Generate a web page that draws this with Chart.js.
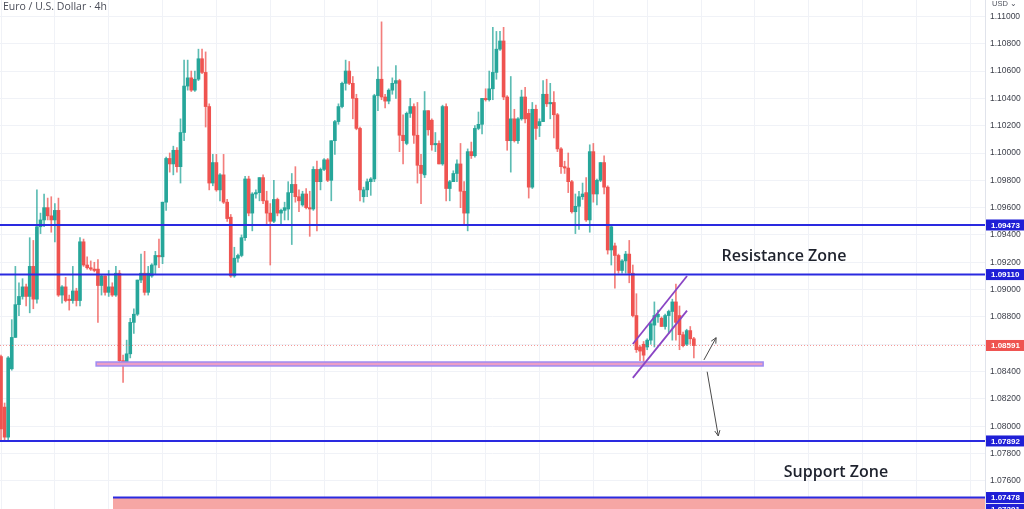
<!DOCTYPE html>
<html>
<head>
<meta charset="utf-8">
<script src="https://cdn.jsdelivr.net/npm/chart.js@4.4.0/dist/chart.umd.min.js"></script>
<style>
html, body { margin: 0; padding: 0; background: #fff; }
</style>
</head>
<body>
<canvas id="grafico" width="1024" height="509"></canvas>
<script>
// EUR/USD 4h candles
var opens = [
1.0851,1.0814,1.0792,1.0842,1.0865,1.0889,1.0895,1.0902,1.0895,1.0917,
1.0893,1.0946,1.0951,1.0960,1.0954,1.0951,1.0958,1.0896,1.0902,1.0893,
1.0892,1.0899,1.0892,1.0935,1.0918,1.0916,1.0915,1.0915,1.0903,1.0910,
1.0898,1.0902,1.0896,1.0912,1.0848,1.0847,1.0853,1.0876,1.0882,1.0907,
1.0912,1.0898,1.0910,1.0918,1.0925,1.0924,1.0964,1.0996,1.0992,1.1002,
1.0990,1.1015,1.1049,1.1055,1.1046,1.1054,1.1069,1.1059,1.1034,1.0978,
1.0993,1.0973,1.0984,1.0964,1.0953,1.0910,1.0923,1.0925,1.0938,1.0981,
1.0956,1.0970,1.0971,1.0982,1.0965,1.0956,1.0950,1.0966,1.0956,1.0958,
1.0959,1.0971,1.0977,1.0968,1.0962,1.0970,1.0960,1.0959,1.0988,1.0979,
1.0988,1.0995,1.0980,1.1009,1.1023,1.1034,1.1051,1.1060,1.1051,1.1040,
1.1018,1.0968,1.0973,1.0979,1.0981,1.1042,1.1054,1.1041,1.1038,1.1046,
1.1051,1.1053,1.1013,1.1007,1.1029,1.1034,1.1013,1.0991,1.0984,1.1031,
1.1024,1.1006,1.1007,1.0992,1.1034,1.0974,1.0979,1.0985,1.0992,1.0972,
1.0956,1.1001,1.0998,1.1018,1.1021,1.1040,1.1039,1.1047,1.1059,1.1076,
1.1082,1.1041,1.1009,1.1025,1.1009,1.1025,1.1041,1.1029,1.0975,1.1032,
1.1020,1.1023,1.1043,1.1036,1.1037,1.1028,1.1003,1.0990,1.0989,1.0979,
1.0957,1.0961,1.0968,1.0971,1.0951,1.1001,1.0970,1.0980,1.0993,1.0975,
1.0929,1.0932,1.0925,1.0914,1.0921,1.0926,1.0912,1.0881,1.0858,1.0860,
1.0858,1.0863,1.0874,1.0880,1.0879,1.0873,1.0881,1.0884,1.0891,1.0881,
1.0867,1.0860,1.0870,1.0864
];
var highs = [
1.0852,1.0817,1.0851,1.0878,1.0917,1.0905,1.0908,1.0904,1.0938,1.0936,
1.0973,1.0956,1.0970,1.0967,1.0968,1.0963,1.0967,1.0903,1.0909,1.0896,
1.0917,1.0901,1.0938,1.0937,1.0924,1.0921,1.0920,1.0922,1.0911,1.0910,
1.0914,1.0905,1.0917,1.0914,1.0852,1.0863,1.0879,1.0886,1.0907,1.0926,
1.0928,1.0917,1.0919,1.0928,1.0937,1.0964,1.0997,1.1000,1.1005,1.1004,
1.1025,1.1068,1.1068,1.1060,1.1060,1.1076,1.1076,1.1074,1.1036,1.0999,
1.0999,1.0985,1.0999,1.0966,1.0955,1.0931,1.0926,1.0940,1.0983,1.0983,
1.0971,1.0973,1.0982,1.0984,1.0972,1.0963,1.0980,1.0967,1.0959,1.0964,
1.0979,1.0985,1.0990,1.0973,1.0972,1.0974,1.0972,1.0990,1.0994,1.0989,
1.0996,1.0996,1.1009,1.1024,1.1036,1.1052,1.1068,1.1067,1.1056,1.1043,
1.1019,1.0975,1.0981,1.0982,1.1043,1.1063,1.1096,1.1043,1.1047,1.1055,
1.1064,1.1054,1.1028,1.1030,1.1040,1.1036,1.1037,1.0999,1.1045,1.1031,
1.1025,1.1015,1.1009,1.1035,1.1036,1.0980,1.0987,1.0995,1.1007,1.0979,
1.1003,1.1008,1.1020,1.1030,1.1040,1.1047,1.1060,1.1092,1.1089,1.1089,
1.1092,1.1042,1.1056,1.1032,1.1026,1.1046,1.1048,1.1032,1.1037,1.1035,
1.1025,1.1053,1.1054,1.1051,1.1045,1.1029,1.1004,1.0994,1.1000,1.0980,
1.0970,1.0972,1.0978,1.0982,1.1006,1.1007,1.0981,1.0993,1.0998,1.0976,
1.0947,1.0934,1.0926,1.0922,1.0928,1.0936,1.0918,1.0897,1.0859,1.0862,
1.0864,1.0876,1.0891,1.0885,1.0880,1.0882,1.0885,1.0893,1.0904,1.0888,
1.0869,1.0871,1.0873,1.0865
];
var lows = [
1.0789,1.0789,1.0789,1.0841,1.0865,1.0881,1.0893,1.0888,1.0883,1.0886,
1.0890,1.0941,1.0946,1.0951,1.0942,1.0935,1.0895,1.0890,1.0891,1.0885,
1.0890,1.0888,1.0888,1.0917,1.0915,1.0914,1.0913,1.0876,1.0896,1.0896,
1.0895,1.0895,1.0895,1.0847,1.0832,1.0846,1.0850,1.0868,1.0881,1.0905,
1.0896,1.0896,1.0909,1.0911,1.0916,1.0919,1.0958,1.0986,1.0984,1.0986,
1.0978,1.1009,1.1046,1.1045,1.1045,1.1053,1.1058,1.1019,1.0973,1.0976,
1.0972,1.0965,1.0963,1.0950,1.0909,1.0909,1.0920,1.0924,1.0936,1.0954,
1.0943,1.0967,1.0965,1.0963,1.0947,1.0918,1.0949,1.0954,1.0947,1.0951,
1.0951,1.0933,1.0964,1.0957,1.0961,1.0959,1.0939,1.0958,1.0943,1.0973,
1.0987,1.0979,1.0965,1.0999,1.1021,1.1033,1.1046,1.1050,1.1025,1.1017,
1.0965,1.0964,1.0968,1.0969,1.0979,1.1031,1.1039,1.1033,1.1036,1.1043,
1.1040,1.1001,1.0992,1.1006,1.1026,1.1007,1.0978,1.0963,1.0982,1.1013,
1.1002,1.1001,1.0992,1.0991,1.0965,1.0965,1.0979,1.0979,1.0960,1.0948,
1.0943,1.0996,1.0997,1.1017,1.1014,1.1038,1.1038,1.1039,1.1054,1.1075,
1.1039,1.1002,1.0986,1.1008,1.1007,1.1024,1.1022,1.0967,1.0974,1.1010,
1.1012,1.1023,1.1034,1.1025,1.1011,1.1001,1.0985,1.0985,1.0971,1.0956,
1.0941,1.0944,1.0966,1.0950,1.0942,1.0964,1.0962,1.0979,1.0970,1.0926,
1.0918,1.0901,1.0912,1.0912,1.0912,1.0905,1.0880,1.0854,1.0848,1.0846,
1.0856,1.0860,1.0858,1.0876,1.0873,1.0871,1.0868,1.0863,1.0863,1.0856,
1.0858,1.0859,1.0860,1.0850
];
var closes = [
1.0798,1.0792,1.0850,1.0865,1.0889,1.0895,1.0902,1.0895,1.0917,1.0893,
1.0946,1.0951,1.0960,1.0954,1.0951,1.0958,1.0896,1.0902,1.0892,1.0892,
1.0899,1.0892,1.0935,1.0918,1.0916,1.0915,1.0914,1.0903,1.0910,1.0898,
1.0902,1.0896,1.0912,1.0848,1.0847,1.0853,1.0876,1.0882,1.0907,1.0912,
1.0898,1.0912,1.0918,1.0925,1.0924,1.0964,1.0996,1.0992,1.1002,1.0990,
1.1015,1.1049,1.1055,1.1046,1.1054,1.1069,1.1059,1.1034,1.0978,1.0993,
1.0973,1.0984,1.0964,1.0952,1.0910,1.0923,1.0925,1.0938,1.0981,1.0956,
1.0970,1.0971,1.0982,1.0965,1.0956,1.0950,1.0966,1.0956,1.0958,1.0960,
1.0971,1.0977,1.0968,1.0965,1.0970,1.0960,1.0959,1.0988,1.0979,1.0988,
1.0995,1.0980,1.1009,1.1023,1.1034,1.1051,1.1060,1.1051,1.1040,1.1018,
1.0973,1.0973,1.0979,1.0981,1.1042,1.1054,1.1041,1.1038,1.1046,1.1051,
1.1053,1.1013,1.1009,1.1029,1.1034,1.1013,1.0991,1.0985,1.1031,1.1017,
1.1006,1.1007,1.0992,1.1034,1.0974,1.0979,1.0985,1.0992,1.0972,1.0956,
1.1001,1.0998,1.1018,1.1021,1.1040,1.1039,1.1047,1.1059,1.1076,1.1082,
1.1041,1.1009,1.1025,1.1009,1.1025,1.1041,1.1025,1.0975,1.1032,1.1018,
1.1023,1.1043,1.1036,1.1037,1.1028,1.1003,1.0990,1.0989,1.0979,1.0957,
1.0961,1.0968,1.0970,1.0951,1.1001,1.0970,1.0980,1.0993,1.0975,1.0929,
1.0946,1.0925,1.0914,1.0921,1.0926,1.0912,1.0881,1.0856,1.0855,1.0852,
1.0863,1.0875,1.0881,1.0882,1.0873,1.0881,1.0884,1.0891,1.0876,1.0867,
1.0859,1.0870,1.0864,1.0859
];

// price axis ticks
var yTicks = [1.076, 1.078, 1.080, 1.082, 1.084, 1.086, 1.088, 1.090, 1.092,
              1.094, 1.096, 1.098, 1.100, 1.102, 1.104, 1.106, 1.108, 1.110];

// drawings (bar index / price)
var levels = [1.09473, 1.09110, 1.07892, 1.07478];
var levelStart = [-1, -1, -1, 31.2];
var lastPrice = 1.08591;
var zoneBottom = 1.07391;
var supportBox = [26.5, 212.3, 1.08441, 1.08470];
var channelTop = [176.0, 1.08602, 191.1, 1.09100];
var channelBot = [176.0, 1.08354, 191.1, 1.08846];
var arrowUp = [195.8, 1.08485, 199.2, 1.08648];
var arrowDown = [196.7, 1.08399, 199.8, 1.07929];
var notes = [["Resistance Zone", 218.1, 1.09246], ["Support Zone", 232.6, 1.07665]];

var xMin = -0.28, xMax = 274.1;
var yMin = 1.07394, yMax = 1.11120;

var upColor = '#26a69a', downColor = '#ef5350';
var fontName = '"Liberation Sans", Arial, sans-serif';
var noteFont = '"Open Sans", "Noto Sans", sans-serif';

var bodies = [], wicks = [];
for (var i = 0; i < opens.length; i++) {
    bodies.push({x: i, y: [opens[i], closes[i]]});
    wicks.push({x: i, y: [lows[i], highs[i]]});
}

function candleColor(ctx) {
    var i = ctx.dataIndex;
    return closes[i] >= opens[i] ? upColor : downColor;
}
function wickColor(ctx) {
    var i = ctx.dataIndex;
    return closes[i] >= opens[i] ? 'rgba(38,166,154,0.75)' : 'rgba(239,83,80,0.75)';
}

function drawArrow(c, x1, y1, x2, y2) {
    c.beginPath(); c.moveTo(x1, y1); c.lineTo(x2, y2); c.stroke();
    var ang = Math.atan2(y2 - y1, x2 - x1), h = 6;
    c.beginPath();
    c.moveTo(x2 - h * Math.cos(ang - 0.45), y2 - h * Math.sin(ang - 0.45));
    c.lineTo(x2, y2);
    c.lineTo(x2 - h * Math.cos(ang + 0.45), y2 - h * Math.sin(ang + 0.45));
    c.stroke();
}

var overlay = {
    id: 'overlay',
    afterDatasetsDraw: function(chart) {
        var c = chart.ctx, sx = chart.scales.x, sy = chart.scales.y, a = chart.chartArea;
        c.save();
        c.beginPath(); c.rect(a.left, a.top, a.right - a.left, a.bottom - a.top); c.clip();

        // last price dotted line
        c.strokeStyle = 'rgba(239,83,80,0.6)'; c.lineWidth = 1; c.setLineDash([1, 2]);
        var lp = Math.round(sy.getPixelForValue(lastPrice)) + 0.5;
        c.beginPath(); c.moveTo(a.left, lp); c.lineTo(a.right, lp); c.stroke();
        c.setLineDash([]);

        // support zone at the bottom
        var zx = sx.getPixelForValue(levelStart[3]);
        var zt = sy.getPixelForValue(levels[3]), zb = sy.getPixelForValue(zoneBottom);
        c.fillStyle = '#f6a6a4';
        c.fillRect(zx, zt, a.right - zx, zb - zt + 2);

        // support box
        var bx1 = sx.getPixelForValue(supportBox[0]), bx2 = sx.getPixelForValue(supportBox[1]);
        var by1 = sy.getPixelForValue(supportBox[3]), by2 = sy.getPixelForValue(supportBox[2]);
        c.fillStyle = '#ec9fc6'; c.fillRect(bx1, by1, bx2 - bx1, by2 - by1);
        c.strokeStyle = '#9f8cf2'; c.lineWidth = 1.5; c.strokeRect(bx1, by1, bx2 - bx1, by2 - by1);

        // horizontal levels
        c.strokeStyle = '#2a2ae0'; c.lineWidth = 2;
        for (var k = 0; k < levels.length; k++) {
            var py = sy.getPixelForValue(levels[k]);
            c.beginPath(); c.moveTo(Math.max(a.left, sx.getPixelForValue(levelStart[k])), py); c.lineTo(a.right, py); c.stroke();
        }

        // channel
        c.strokeStyle = '#8a45c4'; c.lineWidth = 1.8;
        [channelTop, channelBot].forEach(function(l) {
            c.beginPath();
            c.moveTo(sx.getPixelForValue(l[0]), sy.getPixelForValue(l[1]));
            c.lineTo(sx.getPixelForValue(l[2]), sy.getPixelForValue(l[3]));
            c.stroke();
        });

        // arrows
        c.strokeStyle = '#4a4a4a'; c.lineWidth = 1;
        [arrowUp, arrowDown].forEach(function(l) {
            drawArrow(c, sx.getPixelForValue(l[0]), sy.getPixelForValue(l[1]),
                      sx.getPixelForValue(l[2]), sy.getPixelForValue(l[3]));
        });

        // text notes
        c.fillStyle = '#1e222d'; c.font = '600 16px ' + noteFont;
        c.textAlign = 'center'; c.textBaseline = 'middle';
        notes.forEach(function(n) {
            c.fillText(n[0], sx.getPixelForValue(n[1]), sy.getPixelForValue(n[2]));
        });
        c.restore();
    },
    afterDraw: function(chart) {
        var c = chart.ctx, sy = chart.scales.y, a = chart.chartArea;
        c.save();
        // title
        c.fillStyle = '#4a4d58'; c.font = '10.5px ' + noteFont;
        c.textAlign = 'left'; c.textBaseline = 'middle';
        c.fillText('Euro / U.S. Dollar \u00b7 4h', 3, 7);

        // axis header
        c.fillStyle = '#fff'; c.fillRect(a.right + 1, 0, 1024 - a.right, 13);
        c.fillStyle = '#50535e'; c.font = '7.5px ' + fontName;
        c.fillText('USD \u2304', a.right + 7, 4);

        // price tags
        function tag(val, bg) {
            var py = sy.getPixelForValue(val);
            c.fillStyle = bg; c.fillRect(a.right + 1, py - 5.5, 1024 - a.right, 11);
            c.fillStyle = '#fff'; c.font = 'bold 8px ' + fontName;
            c.fillText(val.toFixed(5), a.right + 6, py + 0.5);
        }
        for (var k = 0; k < levels.length; k++) tag(levels[k], '#1f1fd6');
        tag(zoneBottom, '#1f1fd6');
        tag(lastPrice, '#ef5350');
        c.restore();
    }
};

var canvas = document.getElementById('grafico');
var graph = new Chart(canvas, {
    data: {
        datasets: [{
            type: 'bar',
            data: wicks,
            backgroundColor: wickColor,
            barThickness: 1,
            grouped: false,
            order: 2
        }, {
            type: 'bar',
            data: bodies,
            backgroundColor: candleColor,
            barThickness: 3,
            minBarLength: 1,
            grouped: false,
            order: 1
        }]
    },
    options: {
        responsive: false,
        animation: false,
        layout: { padding: 0 },
        plugins: { legend: { display: false }, tooltip: { enabled: false } },
        scales: {
            x: {
                type: 'linear',
                offset: false,
                min: xMin,
                max: xMax,
                ticks: { display: false, stepSize: 15, includeBounds: false },
                grid: { color: '#f0f2f7', drawTicks: false, offset: false },
                border: { display: false },
                afterFit: function(s) { s.height = 0; s.paddingLeft = 0; s.paddingRight = 0; }
            },
            y: {
                type: 'linear',
                position: 'right',
                min: yMin,
                max: yMax,
                afterBuildTicks: function(s) { s.ticks = yTicks.map(function(v) { return {value: v}; }); },
                ticks: {
                    callback: function(v) { return v.toFixed(5); },
                    color: '#3c3f4a',
                    font: { size: 8.5, family: fontName },
                    padding: 5
                },
                grid: { color: '#f0f2f7', drawTicks: false },
                border: { color: '#e0e3eb' },
                afterFit: function(s) { s.width = 39; s.paddingTop = 0; s.paddingBottom = 0; }
            }
        }
    },
    plugins: [overlay]
});
</script>
</body>
</html>
